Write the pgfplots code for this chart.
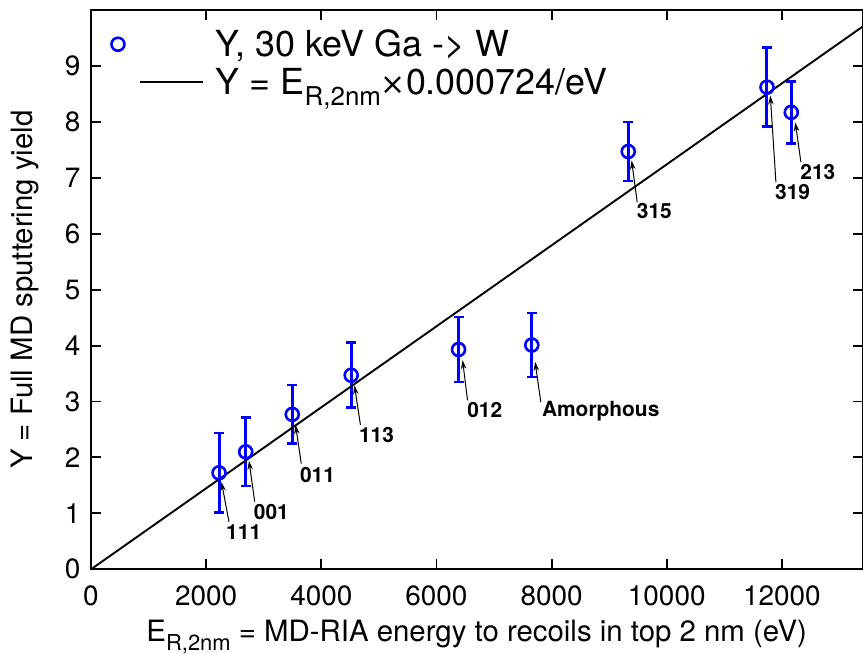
\documentclass[border=0pt]{standalone}
\usepackage{fontspec}
\setmainfont{TeX Gyre Heros}
\newfontfamily\symfont{DejaVu Sans}
\usepackage{pgfplots}
\pgfplotsset{compat=1.18}
\usepackage{pgfplotstable}
\usetikzlibrary{arrows.meta}

\pgfplotstableread{
x y ey
2224 1.725 0.71
2687 2.10 0.61
3496 2.77 0.525
4519 3.47 0.58
6384 3.93 0.58
7656 4.01 0.57
9331 7.47 0.525
11741 8.62 0.705
12163 8.17 0.555
}\datatable

\newcommand\ticksize{\fontsize{28}{30}\selectfont}
\newcommand\labsize{\fontsize{29.5}{33}\selectfont}
\newcommand\legsize{\fontsize{36}{40}\selectfont}
\newcommand\ptsize{\fontsize{21}{23}\selectfont\bfseries}
\newcommand\sublab[1]{\raisebox{-0.3em}{\fontsize{22}{24}\selectfont #1}}
\newcommand\subleg[1]{\raisebox{-0.3em}{\fontsize{26}{29}\selectfont #1}}

\begin{document}
\begin{tikzpicture}
\begin{axis}[
 at={(0,0)}, anchor=south west,
 width=771.5bp, height=559.3bp, scale only axis,
 xmin=0, xmax=13400, ymin=0, ymax=10,
 xtick={0,2000,...,12000}, ytick={0,1,...,9},
 scaled x ticks=false,
 /pgf/number format/assume math mode=true,
 xticklabel style={/pgf/number format/set thousands separator={}, yshift=-13bp},
 yticklabel style={xshift=-7bp},
 tick label style={font=\ticksize},
 tick align=inside, tick pos=both, major tick length=10bp,
 axis line style={line width=1.9bp},
 every tick/.style={black, line width=1.9bp},
 xlabel={E\sublab{R,2nm} = MD-RIA energy to recoils in top 2 nm (eV)},
 ylabel={Y = Full MD sputtering yield},
 label style={font=\labsize},
 xlabel style={at={(axis description cs:0.5,-0.121)}, anchor=center},
 ylabel style={at={(axis description cs:-0.0855,0.5)}, anchor=center},
 legend style={at={(rel axis cs:0.0246,0.968)}, anchor=north west, draw=none, fill=none,
   font=\legsize, inner sep=0pt, row sep=6bp, cells={anchor=west},
   nodes={inner xsep=5bp, inner ysep=2bp}},
 clip=false,
]
\addplot[blue, only marks, mark=o, mark size=6.5bp, mark options={line width=2.6bp, blue},
  legend image code/.code={\path[draw=none, fill=none] (-28bp,-6bp) rectangle (71bp,6bp);
    \draw[blue, line width=2.6bp] (-22bp,0) circle (6.5bp);},
  error bars/.cd, y dir=both, y explicit,
  error bar style={line width=3bp, blue},
  error mark options={rotate=90, mark size=5bp, line width=2.6bp, blue}]
  table[x=x, y=y, y error=ey]{\datatable};
\addlegendentry{Y, 30 keV Ga -> W}
\addplot[black, line width=1.9bp,
  legend image code/.code={\path[draw=none, fill=none] (-28bp,-6bp) rectangle (71bp,6bp);
    \draw[black, line width=1.9bp] (0,0) -- (63bp,0);}]
  coordinates {(0,0) (13400,9.7016)};
\addlegendentry{Y = E\subleg{R,2nm}{\symfont\fontsize{30}{30}\selectfont ×}0.000724/eV}

\tikzset{lab/.style={font=\ptsize, inner sep=0pt}, arr/.style={-{Stealth[length=9bp,width=5.5bp]}, line width=1bp}}
\draw[arr] (axis cs:2397,0.85) -- (axis cs:2266,1.56);
\draw[arr] (axis cs:2843,1.21) -- (axis cs:2744,1.94);
\draw[arr] (axis cs:3652,1.89) -- (axis cs:3553,2.58);
\draw[arr] (axis cs:4680,2.58) -- (axis cs:4576,3.29);
\draw[arr] (axis cs:6540,3.02) -- (axis cs:6454,3.74);
\draw[arr] (axis cs:7812,2.99) -- (axis cs:7714,3.71);
\draw[arr] (axis cs:9487,6.56) -- (axis cs:9390,7.31);
\draw[arr] (axis cs:11896,6.92) -- (axis cs:11799,8.47);
\draw[arr] (axis cs:12330,7.28) -- (axis cs:12233,7.99);
\node[lab] at (axis cs:2652,0.66) {111};
\node[lab] at (axis cs:3132,1.03) {001};
\node[lab] at (axis cs:3935,1.69) {011};
\node[lab] at (axis cs:4958,2.40) {113};
\node[lab] at (axis cs:6838,2.85) {012};
\node[lab, anchor=west] at (axis cs:7830,2.83) {Amorphous};
\node[lab] at (axis cs:9785,6.40) {315};
\node[lab] at (axis cs:12186,6.74) {319};
\node[lab] at (axis cs:12625,7.10) {213};
\end{axis}
\pgfresetboundingbox
\path (-91bp,-84.7bp) rectangle (772bp,569.3bp);
\end{tikzpicture}
\end{document}
